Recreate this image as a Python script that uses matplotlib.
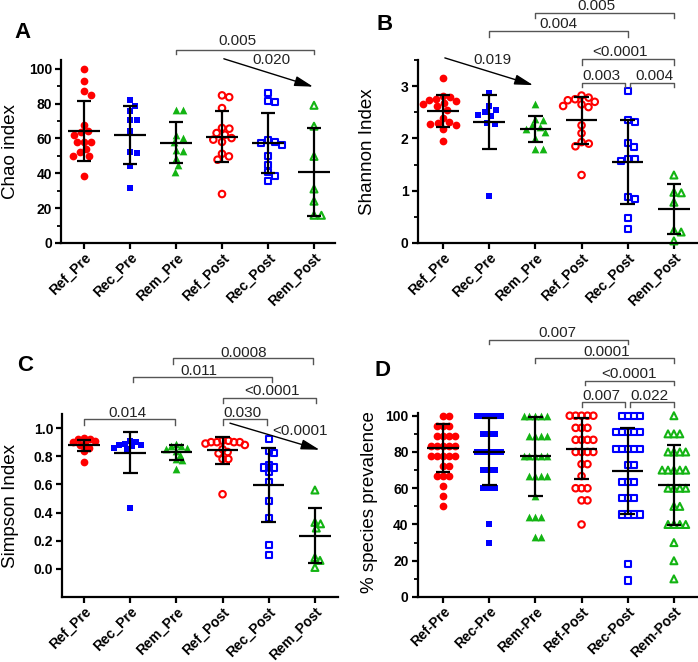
import matplotlib
matplotlib.use('Agg')
import matplotlib.pyplot as plt
import numpy as np
from matplotlib.ticker import MultipleLocator, FixedLocator

plt.rcParams['font.family'] = ['Liberation Sans', 'DejaVu Sans']

# ---------------- data ----------------
groups_abc = ['Ref_Pre', 'Rec_Pre', 'Rem_Pre', 'Ref_Post', 'Rec_Post', 'Rem_Post']
groups_d = ['Ref-Pre', 'Rec-Pre', 'Rem-Pre', 'Ref-Post', 'Rec-Post', 'Rem-Post']

# Panel A: Chao index
chao_ref_pre = [100, 92.7, 87, 85, 67.5, 63.7, 64, 62, 58, 58, 58, 52, 54, 50, 50, 38.2]
chao_rec_pre = [81.8, 78.8, 75.9, 70.4, 70.4, 64.4, 51.6, 52.2, 44.4, 31.5]
chao_rem_pre = [76.5, 76.1, 62, 60, 58, 53.5, 52.6, 49, 44.9, 41]
chao_ref_post = [84.7, 83.7, 77.4, 66, 65.6, 63.1, 62.1, 60.2, 59.3, 58, 51.2, 49.7, 47.8, 28.1]
chao_rec_post = [86, 81.5, 81, 59, 58, 57.5, 56, 50, 45, 40.5, 38.5, 35.5]
chao_rem_post = [79, 67, 49.7, 31, 24, 15.9, 15.9]
chao_mean = [64.2, 62.1, 57.6, 61.0, 57.3, 40.7]
chao_sd = [17.2, 16.6, 11.9, 14.5, 17.3, 25.3]

# Panel B: Shannon index
shan_ref_pre = [3.15, 2.82, 2.80, 2.76, 2.74, 2.72, 2.68, 2.65, 2.62, 2.55, 2.40, 2.32, 2.30, 2.28, 2.25, 2.18, 1.95]
shan_rec_pre = [2.87, 2.62, 2.55, 2.50, 2.45, 2.42, 2.30, 2.28, 0.90]
shan_rem_pre = [2.65, 2.38, 2.35, 2.25, 2.22, 2.18, 2.12, 2.00, 1.80, 1.79]
shan_ref_post = [2.82, 2.78, 2.75, 2.73, 2.70, 2.65, 2.62, 2.60, 2.25, 2.10, 1.93, 1.90, 1.85, 1.30]
shan_rec_post = [2.90, 2.36, 2.32, 1.92, 1.84, 1.61, 1.56, 1.60, 0.88, 0.85, 0.47, 0.27]
shan_rem_post = [1.30, 0.97, 0.96, 0.78, 0.24, 0.21, 0.04]
shan_mean = [2.53, 2.31, 2.18, 2.35, 1.55, 0.65]
shan_sd = [0.31, 0.52, 0.25, 0.45, 0.80, 0.48]

# Panel C: Simpson index
simp_ref_pre = [0.93, 0.92, 0.92, 0.91, 0.90, 0.89, 0.88, 0.86, 0.84, 0.76]
simp_rec_pre = [0.91, 0.90, 0.89, 0.88, 0.88, 0.87, 0.86, 0.85, 0.43]
simp_rem_pre = [0.89, 0.87, 0.87, 0.86, 0.85, 0.84, 0.81, 0.78, 0.77, 0.71]
simp_ref_post = [0.91, 0.91, 0.90, 0.90, 0.90, 0.90, 0.89, 0.88, 0.85, 0.83, 0.82, 0.78, 0.78, 0.53]
simp_rec_post = [0.92, 0.84, 0.82, 0.74, 0.72, 0.72, 0.69, 0.62, 0.48, 0.36, 0.17, 0.10]
simp_rem_post = [0.56, 0.33, 0.32, 0.29, 0.08, 0.06, 0.01]
simp_mean = [0.877, 0.826, 0.828, 0.843, 0.596, 0.235]
simp_sd = [0.039, 0.143, 0.053, 0.097, 0.266, 0.196]

# Panel D: % species prevalence
prev_ref_pre = [100, 100, 94.4, 94.4, 94.4, 88.9, 88.9, 88.9, 88.9, 83.3, 83.3, 83.3, 83.3, 83.3,
                77.8, 77.8, 77.8, 77.8, 77.8, 72.2, 72.2, 66.7, 66.7, 66.7, 61.1, 55.6, 50.0]
prev_rec_pre = [100, 100, 100, 100, 100, 90, 90, 90, 80, 80, 80, 80, 80, 70, 70, 70, 60, 60, 60, 40, 30]
prev_rem_pre = [100, 100, 100, 100, 100, 88.9, 88.9, 88.9, 88.9, 77.8, 77.8, 77.8, 77.8, 77.8,
                66.7, 66.7, 66.7, 66.7, 55.6, 44.4, 44.4, 44.4, 33.3, 33.3]
prev_ref_post = [100, 100, 100, 100, 100, 93.3, 93.3, 93.3, 86.7, 86.7, 86.7, 86.7, 80, 80, 80, 80,
                 73.3, 73.3, 66.7, 60, 60, 60, 53.3, 53.3, 40]
prev_rec_post = [100, 100, 100, 100, 90.9, 90.9, 90.9, 90.9, 90.9, 81.8, 81.8, 81.8, 81.8, 81.8,
                 72.7, 72.7, 63.6, 63.6, 63.6, 54.5, 54.5, 54.5, 45.5, 45.5, 45.5, 45.5, 18.2, 9.1]
prev_rem_post = [100, 90, 90, 90, 80, 80, 80, 80, 70, 70, 70, 70, 70, 60, 60, 60, 60, 50, 50,
                 40, 40, 40, 40, 30, 20, 10]
prev_mean = [82.3, 80.2, 77.7, 81.8, 69.5, 61.6]
prev_sd = [13.2, 18.3, 21.8, 16.8, 23.6, 22.0]

# significance annotations: (x1, x2, y_line, y_tick_end, label, text_x, text_baseline)
brackets_a = [(2, 5, 111, 108.6, '0.005', 3.33, 113.8)]
arrows_a = [(3.04, 105.7, 4.98, 89.7, '0.020', 4.07, 102.7)]
brackets_b = [(2, 5, 4.39, 4.30, '0.005', 3.33, 4.455),
              (1, 4, 4.05, 3.94, '0.004', 2.51, 4.105),
              (3, 5, 3.52, 3.40, '<0.0001', 3.83, 3.575),
              (3, 3.95, 3.06, 2.98, '0.003', 3.44, 3.117),
              (4.05, 5, 3.06, 2.98, '0.004', 4.57, 3.117)]
arrows_b = [(0.04, 3.54, 1.95, 3.02, '0.019', 1.08, 3.417)]
brackets_c = [(1.93, 4.96, 1.50, 1.456, '0.0008', 3.46, 1.508),
              (1.06, 4.08, 1.366, 1.326, '0.011', 2.49, 1.378),
              (3, 5.02, 1.217, 1.177, '<0.0001', 4.07, 1.232),
              (0, 1.98, 1.066, 1.019, '0.014', 0.95, 1.078),
              (3, 3.96, 1.066, 1.019, '0.030', 3.44, 1.078)]
arrows_c = [(3.16, 1.035, 5.1, 0.846, '<0.0001', 4.68, 0.953)]
brackets_d = [(1, 4, 142, 139.7, '0.007', 2.47, 143.2),
              (2, 5, 131.8, 128.9, '0.0001', 3.55, 133),
              (3.07, 5, 119.4, 116.7, '<0.0001', 4.03, 120.7),
              (3, 3.95, 107.6, 104.9, '0.007', 3.42, 108.9),
              (4.05, 5, 107.6, 104.9, '0.022', 4.46, 108.9)]
arrows_d = []

# ---------------- styling ----------------
RED = '#FF0000'
BLUE = '#0000FF'
GREEN = '#13B413'
styles = [('o', RED, True), ('s', BLUE, True), ('^', GREEN, True),
          ('o', RED, False), ('s', BLUE, False), ('^', GREEN, False)]
sizes_filled = {'o': 31, 's': 25, '^': 31}
sizes_open = {'o': 22, 's': 19, '^': 25}

FW, FH = 698, 662
fig = plt.figure(figsize=(FW / 100, FH / 100), dpi=100)


def swarm(values, xppu, yppu, d):
    placed = []
    offs = np.zeros(len(values))
    order = np.argsort(-np.asarray(values), kind='stable')
    for idx in order:
        y = values[idx] * yppu
        cands = [0.0]
        for px, py in placed:
            dy = abs(py - y)
            if dy < d:
                dx = np.sqrt(d * d - dy * dy)
                cands += [px + dx, px - dx]
        cands.sort(key=lambda c: (abs(c), -c))
        chosen = 0.0
        for c in cands:
            if all((c - px) ** 2 + (y - py) ** 2 >= d * d - 1e-6 for px, py in placed):
                chosen = c
                break
        placed.append((chosen, y))
        offs[idx] = chosen / xppu
    return offs


def panel(rect, xlim, ylim, data, means, sds, labels, ylabel, ylabel_xy, letter, letter_xy,
          major, minor, ytick_vals, ytick_fmt, brackets, arrows, d_px):
    ax = fig.add_axes(rect)
    ax.set_xlim(*xlim)
    ax.set_ylim(*ylim)
    wpx = rect[2] * FW
    hpx = rect[3] * FH
    xppu = wpx / (xlim[1] - xlim[0])
    yppu = hpx / (ylim[1] - ylim[0])
    for i, vals in enumerate(data):
        m, col, filled = styles[i]
        offs = swarm(vals, xppu, yppu, d_px)
        if filled:
            ax.scatter(i + offs, vals, marker=m, s=sizes_filled[m], c=col, linewidths=0,
                       zorder=2, clip_on=False)
        else:
            ax.scatter(i + offs, vals, marker=m, s=sizes_open[m], facecolors='none',
                       edgecolors=col, linewidths=1.5, zorder=2, clip_on=False)
        mu, sd = means[i], sds[i]
        ax.vlines(i, mu - sd, mu + sd, color='black', lw=1.6, zorder=4, clip_on=False)
        ax.hlines([mu - sd, mu + sd], i - 0.16, i + 0.16, color='black', lw=1.6, zorder=4, clip_on=False)
        ax.hlines(mu, i - 0.34, i + 0.34, color='black', lw=1.6, zorder=4, clip_on=False)
    for x1, x2, y, yt, txt, tx, ty in brackets:
        ax.plot([x1, x1, x2, x2], [yt, y, y, yt], color='#555555', lw=1.0, clip_on=False, zorder=3)
        ax.text(tx, ty, txt, ha='center', va='baseline', fontsize=11, color='#222222', clip_on=False)
    for x0, y0, x1, y1, txt, tx, ty in arrows:
        ax.annotate('', xy=(x1, y1), xytext=(x0, y0),
                    arrowprops=dict(arrowstyle='-|>,head_length=0.8,head_width=0.22',
                                    mutation_scale=14, color='black', lw=1.0,
                                    shrinkA=0, shrinkB=0), annotation_clip=False)
        ax.text(tx, ty, txt, ha='center', va='baseline', fontsize=11, color='#222222', clip_on=False)

    for s in ['top', 'right']:
        ax.spines[s].set_visible(False)
    for s in ['left', 'bottom']:
        ax.spines[s].set_linewidth(1.6)
    ax.set_xticks(range(len(labels)))
    ax.set_xticklabels(labels, rotation=45, ha='right', rotation_mode='anchor',
                       fontsize=10, fontweight='bold')
    ax.yaxis.set_major_locator(FixedLocator(ytick_vals))
    ax.set_yticklabels([ytick_fmt.format(v) for v in ytick_vals], fontsize=10, fontweight='bold')
    if minor:
        ax.yaxis.set_minor_locator(MultipleLocator(minor))
    ax.tick_params(axis='both', which='major', direction='out', length=4.5, width=1.6, pad=2)
    ax.tick_params(axis='x', which='major', pad=1)
    ax.tick_params(axis='y', which='minor', direction='out', length=3, width=1.3)
    ax.set_ylabel(ylabel, fontsize=13.5)
    ax.yaxis.set_label_coords(*ylabel_xy)
    fig.text(letter_xy[0] / FW, 1 - letter_xy[1] / FH, letter, fontsize=16, fontweight='bold',
             ha='center', va='center')
    return ax


data_a = [chao_ref_pre, chao_rec_pre, chao_rem_pre, chao_ref_post, chao_rec_post, chao_rem_post]
data_b = [shan_ref_pre, shan_rec_pre, shan_rem_pre, shan_ref_post, shan_rec_post, shan_rem_post]
data_c = [simp_ref_pre, simp_rec_pre, simp_rem_pre, simp_ref_post, simp_rec_post, simp_rem_post]
data_d = [prev_ref_pre, prev_rec_pre, prev_rem_pre, prev_ref_post, prev_rec_post, prev_rem_post]

rect_a = [61 / FW, 1 - 243 / FH, 273.7 / FW, 183 / FH]
rect_b = [417.6 / FW, 1 - 243 / FH, 279.4 / FW, 183 / FH]
rect_c = [62.3 / FW, 1 - 597 / FH, 275.7 / FW, 183 / FH]
rect_d = [417.6 / FW, 1 - 597 / FH, 279.4 / FW, 184 / FH]

panel(rect_a, (-0.5, 5.45), (0, 105), data_a, chao_mean, chao_sd, groups_abc, 'Chao index',
      (-0.155, 0.5), 'A', (23, 33), 20, 10, [0, 20, 40, 60, 80, 100], '{:.0f}',
      brackets_a, arrows_a, 7.4)
panel(rect_b, (-0.55, 5.5), (0, 3.5), data_b, shan_mean, shan_sd, groups_abc, 'Shannon Index',
      (-0.15, 0.5), 'B', (385, 25), 1, 0.5, [0, 1, 2, 3], '{:.0f}',
      brackets_b, arrows_b, 7.4)
panel(rect_c, (-0.47, 5.5), (-0.2, 1.1), data_c, simp_mean, simp_sd, groups_abc, 'Simpson Index',
      (-0.158, 0.497), 'C', (25, 366), 0.2, None, [0.0, 0.2, 0.4, 0.6, 0.8, 1.0], '{:.1f}',
      brackets_c, arrows_c, 5.8)
panel(rect_d, (-0.55, 5.5), (0, 101.5), data_d, prev_mean, prev_sd, groups_d, '% species prevalence',
      (-0.14, 0.516), 'D', (382, 370), 20, 10, [0, 20, 40, 60, 80, 100], '{:.0f}',
      brackets_d, arrows_d, 5.9)

fig.savefig('out.png', dpi=100)
